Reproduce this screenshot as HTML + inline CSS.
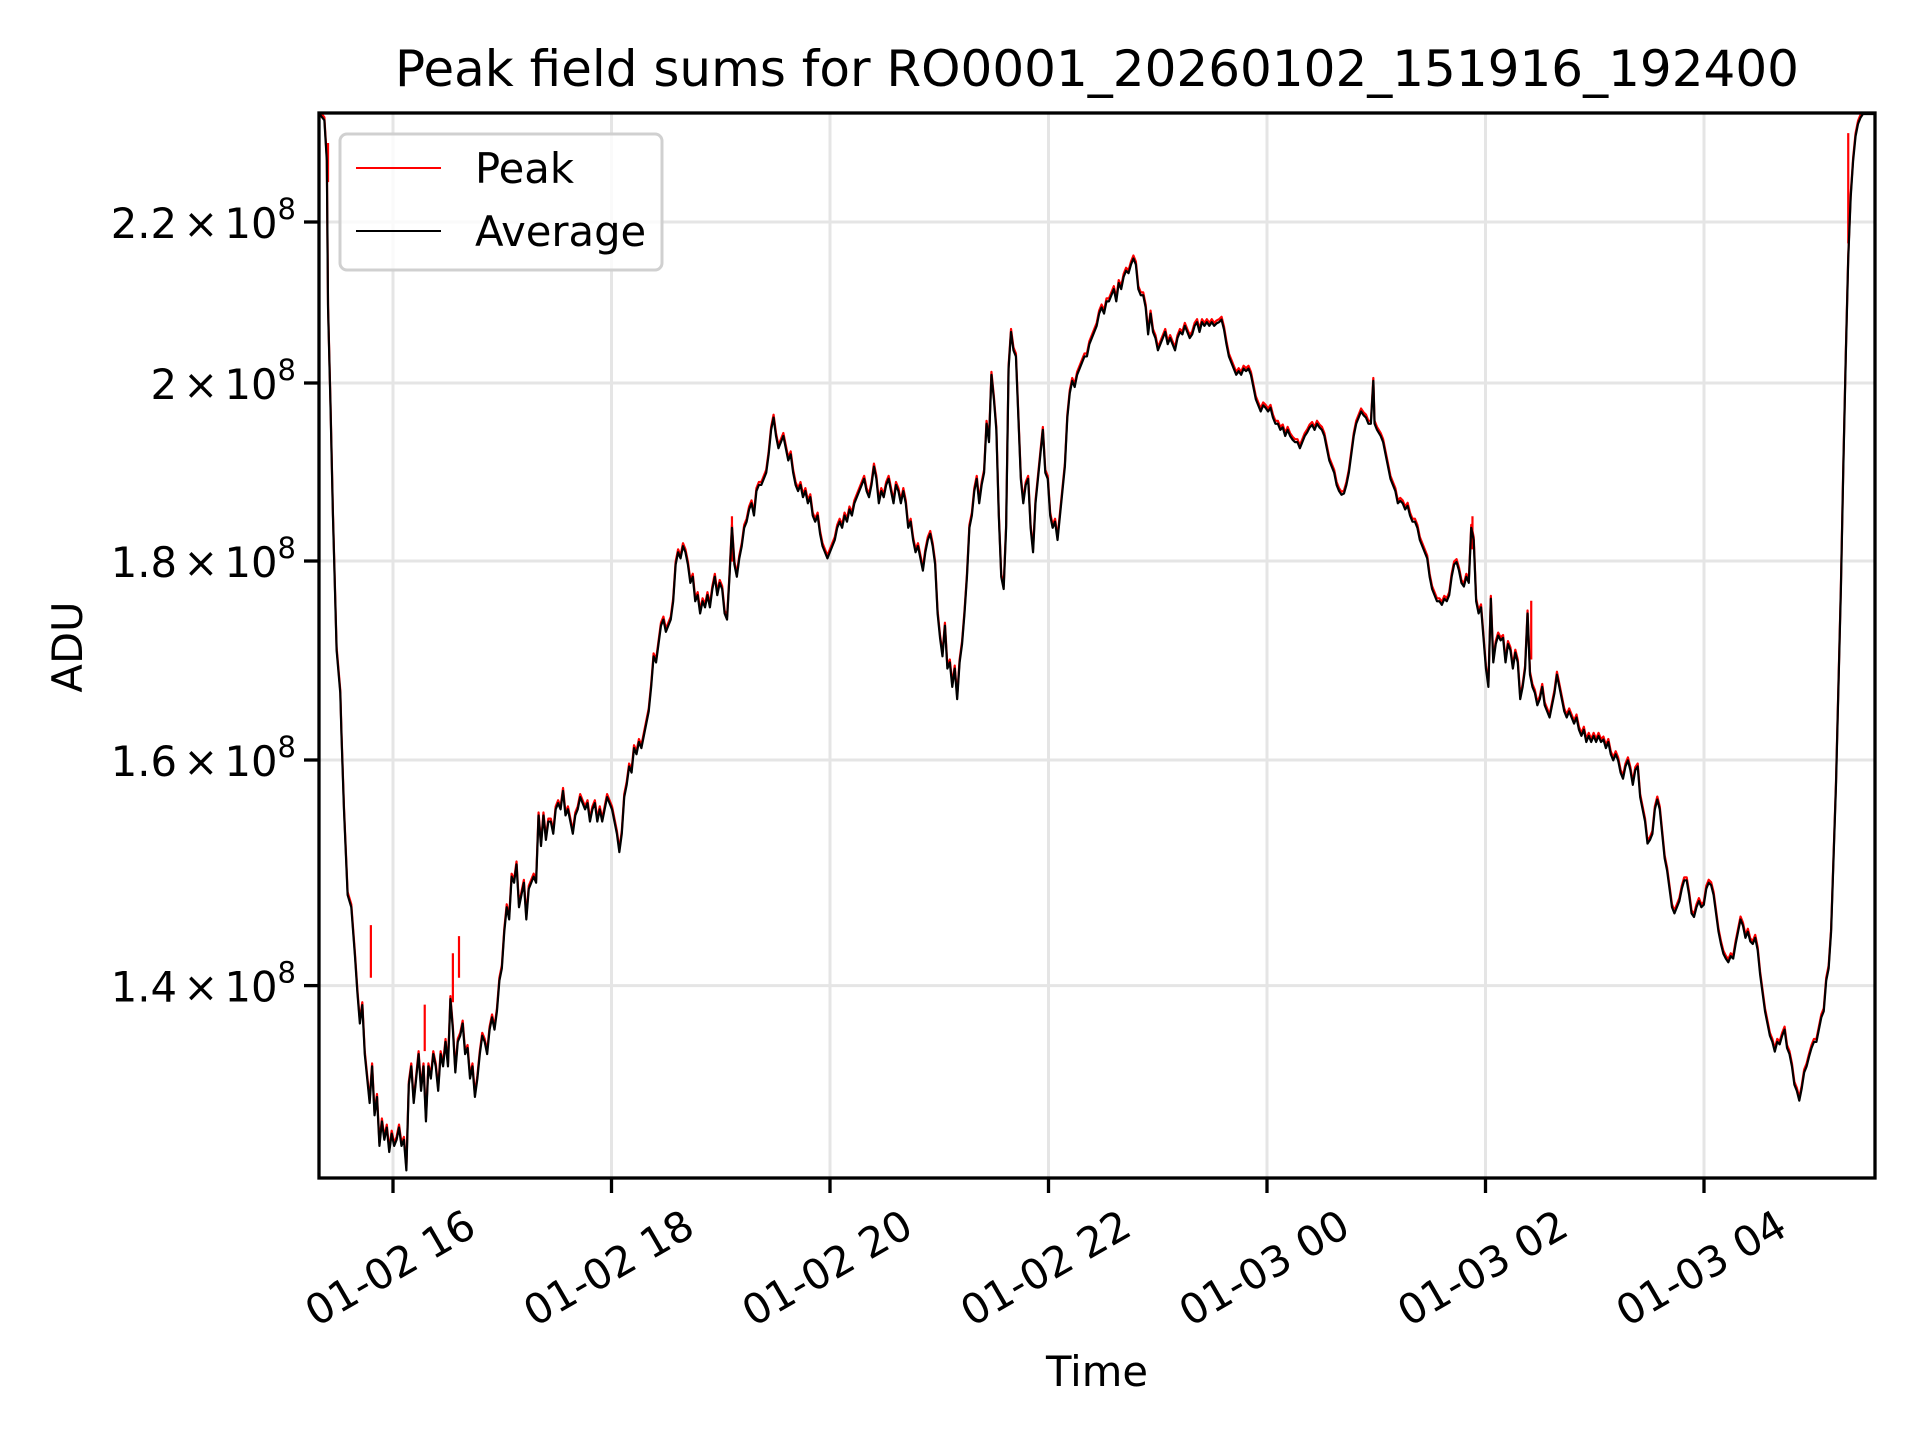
<!DOCTYPE html>
<html><head><meta charset="utf-8"><style>
html,body{margin:0;padding:0;background:#fff;}
svg{display:block;font-family:"DejaVu Sans","Liberation Sans",sans-serif;}
</style></head><body>
<svg width="1920" height="1440" viewBox="0 0 1920 1440" xmlns="http://www.w3.org/2000/svg">
<rect width="1920" height="1440" fill="#fff"/>
<defs><clipPath id="ax"><rect x="319" y="113" width="1556" height="1065"/></clipPath></defs>
<g stroke="#e5e5e5" stroke-width="3">
<line x1="393" y1="113" x2="393" y2="1178"/><line x1="611.5" y1="113" x2="611.5" y2="1178"/>
<line x1="830" y1="113" x2="830" y2="1178"/><line x1="1048.5" y1="113" x2="1048.5" y2="1178"/>
<line x1="1267" y1="113" x2="1267" y2="1178"/><line x1="1485.5" y1="113" x2="1485.5" y2="1178"/>
<line x1="1704" y1="113" x2="1704" y2="1178"/>
<line x1="319" y1="222" x2="1875" y2="222"/><line x1="319" y1="383" x2="1875" y2="383"/>
<line x1="319" y1="561" x2="1875" y2="561"/><line x1="319" y1="760" x2="1875" y2="760"/>
<line x1="319" y1="985.6" x2="1875" y2="985.6"/>
</g>
<g clip-path="url(#ax)">
<g transform="scale(1.224)" fill="none" stroke-linejoin="round">
<g stroke="#ff0000" stroke-width="2.2" transform="translate(0,-1.2)">
<path vector-effect="non-scaling-stroke" d="M268,118 L268,150 M303,757 L303,800 M347,822 L347,860 M375,766 L375,800 M370,780 L370,820 M598,423 L598,460 M1203,423 L1203,450 M1251,492 L1251,540 M1510,110 L1510,200"/>
<polyline id="p" vector-effect="non-scaling-stroke" points="261,92 265,97 267,130 268,250 270,330 272,420 275,530 278,565 279,600 281,660 284,730 287,740 290,780 292,810 294,835 296,820 298,860 300,880 302,900 304,870 306,910 308,895 310,935 312,915 314,930 316,920 318,940 320,925 322,935 324,930 326,920 328,935 330,930 332,955 334,885 336,870 338,900 340,880 342,860 344,890 346,870 348,915 350,870 352,880 354,860 356,870 358,890 360,860 362,870 364,850 366,870 368,815 370,840 372,875 374,850 376,845 378,835 380,860 382,855 384,880 386,870 388,895 390,880 392,860 394,845 396,850 398,860 400,840 402,830 404,840 406,825 408,800 410,790 412,760 414,740 416,750 418,715 420,720 422,705 424,740 426,730 428,720 430,750 432,725 434,720 436,715 438,720 440,665 442,690 444,665 446,685 448,670 450,670 452,680 454,660 456,655 458,660 460,645 462,665 464,660 466,670 468,680 470,665 472,660 474,650 476,655 478,660 480,655 482,670 484,660 486,655 488,670 490,660 492,670 494,660 496,650 498,655 500,660 502,670 504,680 506,695 508,680 510,650 512,640 514,625 516,630 518,610 520,615 522,605 524,610 526,600 528,590 530,580 532,560 534,535 536,540 538,525 540,510 542,505 544,515 546,510 548,505 550,490 552,460 554,450 556,455 558,445 560,450 562,460 564,475 566,470 568,490 570,485 572,500 574,490 576,495 578,485 580,495 582,480 584,470 586,485 588,475 590,480 592,500 594,505 596,470 598,430 600,460 602,470 604,455 606,445 608,430 610,425 612,415 614,410 616,420 618,400 620,395 622,395 624,390 626,385 628,370 630,350 632,340 634,355 636,365 638,360 640,355 642,365 644,375 646,370 648,385 650,395 652,400 654,395 656,405 658,400 660,410 662,405 664,420 666,425 668,420 670,435 672,445 674,450 676,455 678,450 680,445 682,440 684,430 686,425 688,430 690,420 692,425 694,415 696,420 698,410 700,405 702,400 704,395 706,390 708,400 710,405 712,395 714,380 716,390 718,410 720,400 722,405 724,395 726,390 728,400 730,410 732,395 734,400 736,410 738,400 740,410 742,430 744,425 746,440 748,450 750,445 752,455 754,465 756,450 758,440 760,435 762,445 764,460 766,500 768,520 770,535 772,510 774,545 776,540 778,560 780,545 782,570 784,540 786,525 788,500 790,470 792,430 794,420 796,400 798,390 800,410 802,395 804,385 806,345 808,360 810,305 812,325 814,350 816,420 818,470 820,480 822,430 824,300 826,270 828,285 830,290 832,340 834,390 836,410 838,395 840,390 842,430 844,450 846,410 848,390 850,370 852,350 854,385 856,390 858,420 860,430 862,425 864,440 866,420 868,400 870,380 872,340 874,320 876,310 878,315 880,305 882,300 884,295 886,290 888,290 890,280 892,275 894,270 896,265 898,255 900,250 902,255 904,245 906,245 908,240 910,235 912,245 914,230 916,235 918,225 920,220 922,222 924,215 926,210 928,215 930,235 932,240 934,240 936,250 938,272 940,255 942,270 944,275 946,285 948,280 950,275 952,270 954,280 956,275 958,280 960,285 962,275 964,270 966,272 968,265 970,270 972,275 974,272 976,265 978,262 980,270 982,262 984,265 986,262 988,265 990,262 992,265 994,263 996,262 998,260 1000,268 1002,280 1004,290 1006,295 1008,300 1010,305 1012,302 1014,305 1016,300 1018,302 1020,300 1022,305 1024,315 1026,325 1028,330 1030,335 1032,330 1034,332 1036,335 1038,332 1040,340 1042,345 1044,345 1046,350 1048,348 1050,355 1052,350 1054,355 1056,358 1058,360 1060,360 1062,365 1064,360 1066,355 1068,352 1070,348 1072,346 1074,350 1076,345 1078,348 1080,350 1082,355 1084,365 1086,375 1088,380 1090,385 1092,395 1094,400 1096,403 1098,402 1100,395 1102,385 1104,370 1106,355 1108,345 1110,340 1112,335 1114,338 1116,340 1118,345 1120,345 1122,310 1123,345 1125,350 1128,355 1130,360 1132,370 1134,380 1136,390 1138,395 1140,400 1142,410 1144,408 1146,410 1148,415 1150,412 1152,420 1154,425 1156,425 1158,430 1160,440 1162,445 1164,450 1166,455 1168,470 1170,480 1172,485 1174,490 1176,490 1178,493 1180,488 1182,490 1184,485 1186,470 1188,460 1190,458 1192,465 1194,475 1196,478 1198,470 1200,475 1202,430 1204,440 1206,490 1208,500 1210,495 1212,520 1214,545 1216,560 1218,488 1220,540 1222,525 1224,518 1226,522 1228,520 1230,540 1232,525 1234,530 1236,545 1238,532 1240,540 1242,570 1244,560 1246,545 1248,500 1250,550 1252,560 1254,565 1256,575 1258,570 1260,560 1262,575 1264,580 1266,585 1268,575 1270,565 1272,550 1274,560 1276,570 1278,580 1280,585 1282,580 1284,585 1286,590 1288,585 1290,595 1292,600 1294,595 1296,605 1298,600 1300,605 1302,600 1304,605 1306,600 1308,605 1310,603 1312,610 1314,605 1316,615 1318,620 1320,615 1322,620 1324,630 1326,635 1328,625 1330,620 1332,628 1334,640 1336,628 1338,625 1340,650 1342,660 1344,670 1346,688 1348,685 1350,680 1352,660 1354,652 1356,660 1358,680 1360,700 1362,710 1364,725 1366,740 1368,745 1370,740 1372,735 1374,725 1376,718 1378,718 1380,730 1382,745 1384,748 1386,740 1388,735 1390,740 1392,738 1394,725 1396,720 1398,722 1400,730 1402,745 1404,760 1406,770 1408,778 1410,782 1412,785 1414,780 1416,782 1418,770 1420,760 1422,750 1424,755 1426,765 1428,760 1430,768 1432,770 1434,765 1436,775 1438,795 1440,810 1442,825 1444,835 1446,845 1448,850 1450,858 1452,850 1454,852 1456,845 1458,840 1460,855 1462,860 1464,870 1466,885 1468,890 1470,898 1472,888 1474,875 1476,870 1478,862 1480,855 1482,850 1484,850 1486,840 1488,830 1490,825 1492,800 1494,790 1496,760 1498,700 1500,640 1502,560 1504,480 1506,380 1508,290 1510,210 1512,160 1514,130 1516,110 1518,100 1520,95 1522,92 1531,92"/>
</g>
<use href="#p" stroke="#000" stroke-width="2.2" transform="translate(0,1.2)"/>
</g>
</g>
<rect x="319" y="113" width="1556" height="1065" fill="none" stroke="#000" stroke-width="3.3"/>
<g stroke="#000" stroke-width="3.3">
<line x1="393" y1="1178" x2="393" y2="1193"/><line x1="611.5" y1="1178" x2="611.5" y2="1193"/>
<line x1="830" y1="1178" x2="830" y2="1193"/><line x1="1048.5" y1="1178" x2="1048.5" y2="1193"/>
<line x1="1267" y1="1178" x2="1267" y2="1193"/><line x1="1485.5" y1="1178" x2="1485.5" y2="1193"/>
<line x1="1704" y1="1178" x2="1704" y2="1193"/>
<line x1="304" y1="222" x2="319" y2="222"/><line x1="304" y1="383" x2="319" y2="383"/>
<line x1="304" y1="561" x2="319" y2="561"/><line x1="304" y1="760" x2="319" y2="760"/>
<line x1="304" y1="985.6" x2="319" y2="985.6"/>
</g>
<g font-size="41.7" fill="#000" text-anchor="end" word-spacing="-7">
<text x="296" y="238">2.2 × 10<tspan font-size="29" dy="-19">8</tspan></text>
<text x="296" y="399">2 × 10<tspan font-size="29" dy="-19">8</tspan></text>
<text x="296" y="577">1.8 × 10<tspan font-size="29" dy="-19">8</tspan></text>
<text x="296" y="776">1.6 × 10<tspan font-size="29" dy="-19">8</tspan></text>
<text x="296" y="1001.6">1.4 × 10<tspan font-size="29" dy="-19">8</tspan></text>
</g>
<g font-size="41.7" fill="#000" text-anchor="middle" dominant-baseline="central">
<text transform="translate(390,1268) rotate(-30)">01-02 16</text>
<text transform="translate(608.5,1268) rotate(-30)">01-02 18</text>
<text transform="translate(827,1268) rotate(-30)">01-02 20</text>
<text transform="translate(1045.5,1268) rotate(-30)">01-02 22</text>
<text transform="translate(1264,1268) rotate(-30)">01-03 00</text>
<text transform="translate(1482.5,1268) rotate(-30)">01-03 02</text>
<text transform="translate(1701,1268) rotate(-30)">01-03 04</text>
</g>
<text x="1097" y="1386" font-size="41.7" text-anchor="middle">Time</text>
<text transform="translate(82,647) rotate(-90)" font-size="41.7" text-anchor="middle">ADU</text>
<text x="1097" y="86" font-size="50" text-anchor="middle">Peak field sums for RO0001_20260102_151916_192400</text>
<rect x="340" y="134" width="322" height="136" rx="7" fill="#fff" fill-opacity="0.8" stroke="#d0d0d0" stroke-width="3"/>
<line x1="356" y1="168" x2="441" y2="168" stroke="#ff0000" stroke-width="2"/>
<line x1="356" y1="231" x2="441" y2="231" stroke="#000" stroke-width="2"/>
<text x="475" y="183" font-size="41.7">Peak</text>
<text x="475" y="246" font-size="41.7">Average</text>
</svg>
</body></html>
